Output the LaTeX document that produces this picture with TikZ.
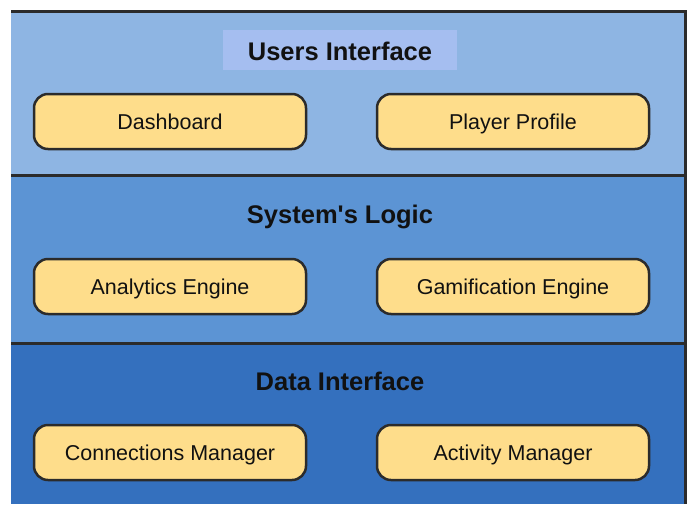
\documentclass[tikz,border=0pt]{standalone}
\usepackage{fontspec}
\setmainfont{Liberation Sans}
\newfontfamily\lsans{Liberation Sans}
\definecolor{bandA}{RGB}{142,181,227}
\definecolor{bandB}{RGB}{92,148,212}
\definecolor{bandC}{RGB}{52,112,190}
\definecolor{hilite}{RGB}{165,190,240}
\definecolor{boxfill}{RGB}{254,221,139}
\definecolor{linec}{RGB}{43,43,43}
\definecolor{textc}{RGB}{17,17,17}
\begin{document}
\begin{tikzpicture}[x=1pt,y=-1pt,
  comp/.style={draw=linec, line width=2.5pt, fill=boxfill, rounded corners=14pt,
    minimum width=272pt, minimum height=55pt, inner sep=0pt,
    text height=15pt, text depth=0pt,
    font=\lsans\fontsize{21.5}{24}\selectfont, text=textc},
  layertitle/.style={font=\lsans\bfseries\fontsize{25.5}{28}\selectfont, text=textc,
    inner sep=0pt, text height=18pt, text depth=0pt},
  sep/.style={draw=linec, line width=3pt}]
\useasboundingbox (0,0) rectangle (691,504);
\fill[white] (0,0) rectangle (691,504);
\fill[bandA] (11,11) rectangle (685,175);
\fill[bandB] (11,175) rectangle (685,343);
\fill[bandC] (11,343) rectangle (685,504);
\coordinate (tl) at (11,11);
\coordinate (tr) at (685,11);
\coordinate (br) at (685,504);
\coordinate (s1l) at (11,175);
\coordinate (s1r) at (685,175);
\coordinate (s2l) at (11,343);
\coordinate (s2r) at (685,343);
\draw[sep] (tl) -- (tr) -- (br);
\draw[sep] (s1l) -- (s1r);
\draw[sep] (s2l) -- (s2r);
\node[fill=hilite, minimum width=234pt, minimum height=40pt, inner sep=0pt] (hl) at (340,50) {};
\node[layertitle] (t1) at (340,51) {Users Interface};
\node[layertitle] (t2) at (340,214) {System's Logic};
\node[layertitle] (t3) at (340,381) {Data Interface};
\node[comp] (dash) at (170,121.5) {Dashboard};
\node[comp] (prof) at (513,121.5) {Player Profile};
\node[comp] (anal) at (170,286.5) {Analytics Engine};
\node[comp] (gami) at (513,286.5) {Gamification Engine};
\node[comp] (conn) at (170,452.5) {Connections Manager};
\node[comp] (act) at (513,452.5) {Activity Manager};
\end{tikzpicture}
\end{document}
